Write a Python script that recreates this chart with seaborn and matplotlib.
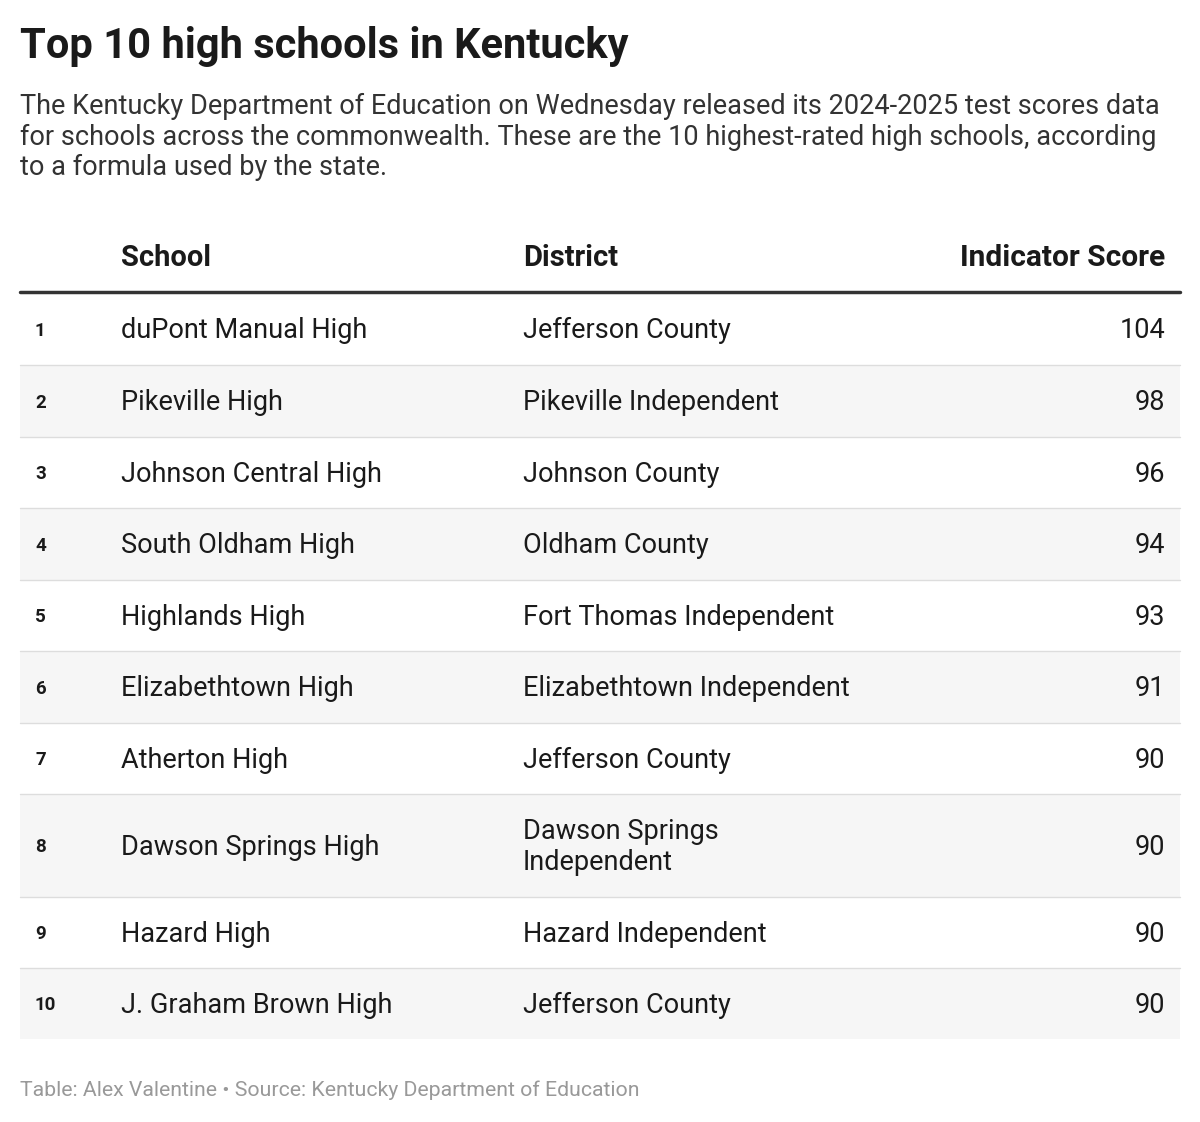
import matplotlib.pyplot as plt
import seaborn as sns

ranks = [1, 2, 3, 4, 5, 6, 7, 8, 9, 10]
schools = ["duPont Manual High", "Pikeville High", "Johnson Central High", "South Oldham High",
           "Highlands High", "Elizabethtown High", "Atherton High", "Dawson Springs High",
           "Hazard High", "J. Graham Brown High"]
districts = ["Jefferson County", "Pikeville Independent", "Johnson County", "Oldham County",
             "Fort Thomas Independent", "Elizabethtown Independent", "Jefferson County",
             "Dawson Springs\nIndependent", "Hazard Independent", "Jefferson County"]
scores = [104, 98, 96, 94, 93, 91, 90, 90, 90, 90]

title = "Top 10 high schools in Kentucky"
subtitle = ("The Kentucky Department of Education on Wednesday released its 2024-2025 test scores data\n"
            "for schools across the commonwealth. These are the 10 highest-rated high schools, according\n"
            "to a formula used by the state.")
footer = "Table: Alex Valentine \u2022 Source: Kentucky Department of Education"

sns.set_theme(style="white")
plt.rcParams["font.family"] = ["Roboto", "DejaVu Sans"]

fig = plt.figure(figsize=(12, 11.22), dpi=100)
ax = fig.add_axes([0, 0, 1, 1])
ax.set_xlim(0, 1200)
ax.set_ylim(1122, 0)
ax.axis("off")

dark = "#1a1a1a"
ax.text(20, 46, title, fontsize=30, fontweight="bold", color=dark, va="center")
ax.text(20, 137, subtitle, fontsize=19.5, color="#333333", va="center", linespacing=1.18)

# header
ax.text(121, 258, "School", fontsize=21, fontweight="bold", color=dark, va="center")
ax.text(523, 258, "District", fontsize=21, fontweight="bold", color=dark, va="center")
ax.text(1165, 258, "Indicator Score", fontsize=21.5, fontweight="bold", color=dark, va="center", ha="right")
ax.plot([20, 1180], [292, 292], color="#333333", lw=2.5)

bounds = [293, 365, 437, 508, 580, 651, 723, 794, 897, 968, 1039]
for i, (r, s, d, v) in enumerate(zip(ranks, schools, districts, scores)):
    top, bot = bounds[i], bounds[i + 1]
    if i % 2 == 1:
        ax.fill_between([20, 1180], top, bot, color="#f6f6f6", lw=0)
    if i < len(ranks) - 1:
        ax.plot([20, 1180], [bot, bot], color="#dddddd", lw=1)
    mid = (top + bot) / 2 + 1.5
    ax.text(35, mid, str(r), fontsize=13.5, fontweight="bold", color=dark, va="center")
    ax.text(121, mid, s, fontsize=19.5, color=dark, va="center")
    ax.text(523, mid, d, fontsize=19.5, color=dark, va="center", linespacing=1.15)
    ax.text(1165, mid, str(v), fontsize=19.5, color=dark, va="center", ha="right")

ax.text(20, 1090, footer, fontsize=15.3, color="#999999", va="center")

fig.savefig("out.png", dpi=100, facecolor="white")
